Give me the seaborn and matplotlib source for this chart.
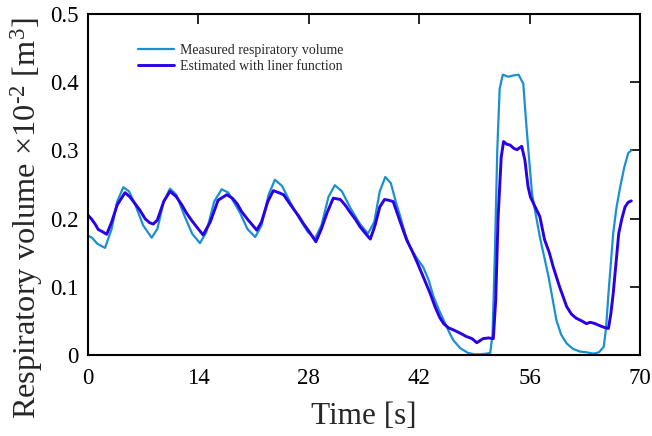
import numpy as np
import pandas as pd
import seaborn as sns
import matplotlib
matplotlib.use("Agg")
import matplotlib.pyplot as plt

# Measured respiratory volume (time in s, volume in 1e-2 m^3)
meas_t = [0, 0.5, 1.2, 2.16, 3.0, 3.7, 4.48, 5.2, 6.0, 7.0, 8.07, 8.8, 9.6, 10.4,
          11.2, 12.2, 13.2, 14.2, 15.0, 16.0, 16.95, 17.8, 18.6, 19.3, 20.2, 21.2,
          22.0, 22.9, 23.7, 24.6, 25.6, 26.8, 27.9, 28.8, 29.6, 30.5, 31.3, 32.2,
          33.3, 34.5, 35.5, 36.3, 37.0, 37.7, 38.4, 39.1, 39.6, 40.3, 40.8, 41.7,
          42.5, 43.2, 43.8, 44.5, 45.1, 45.7, 46.3, 47.2, 48.2, 49.0, 49.7, 50.5,
          51.0, 51.3, 51.6, 51.9, 52.2, 52.6, 53.3, 54.0, 54.6, 55.2, 55.6, 56.3,
          57.3, 58.4, 59.4, 60.0, 60.7, 61.5, 62.4, 63.2, 64.1, 64.8, 65.4, 65.7,
          66.0, 66.6, 67.0, 67.5, 68.0, 68.5, 68.9]
meas_v = [0.175, 0.172, 0.163, 0.157, 0.185, 0.225, 0.246, 0.240, 0.220, 0.190,
          0.172, 0.185, 0.225, 0.244, 0.235, 0.205, 0.178, 0.164, 0.180, 0.225,
          0.243, 0.238, 0.222, 0.208, 0.185, 0.173, 0.190, 0.235, 0.257, 0.248,
          0.225, 0.200, 0.180, 0.171, 0.190, 0.232, 0.249, 0.240, 0.215, 0.192,
          0.178, 0.195, 0.240, 0.261, 0.252, 0.222, 0.203, 0.175, 0.159, 0.142,
          0.129, 0.110, 0.086, 0.066, 0.051, 0.036, 0.022, 0.010, 0.003, 0.001,
          0.001, 0.002, 0.003, 0.030, 0.150, 0.300, 0.390, 0.411, 0.408, 0.410,
          0.411, 0.398, 0.335, 0.237, 0.173, 0.115, 0.051, 0.030, 0.017, 0.009,
          0.005, 0.004, 0.002, 0.004, 0.012, 0.040, 0.090, 0.178, 0.215, 0.247,
          0.275, 0.296, 0.300]

# Volume estimated with the linear function
est_t = [0, 0.47, 0.9, 1.3, 1.8, 2.37, 3.0, 3.7, 4.69, 5.3, 5.96, 6.6, 7.23, 7.8,
         8.28, 8.8, 9.6, 10.4, 11.2, 11.9, 12.5, 13.1, 13.9, 14.6, 15.5, 16.5,
         17.6, 18.3, 18.9, 19.5, 20.3, 20.9, 21.4, 22.0, 22.8, 23.5, 24.2, 24.8,
         25.4, 26.0, 26.7, 27.3, 28.1, 28.9, 29.6, 30.3, 31.1, 32.0, 32.6, 33.2,
         33.9, 34.5, 35.2, 35.8, 36.4, 37.0, 37.6, 38.1, 38.7, 39.6, 40.4, 41.0,
         41.7, 42.5, 43.4, 44.0, 44.6, 45.1, 45.7, 46.3, 47.2, 48.0, 48.7, 49.3,
         50.1, 50.8, 51.4, 51.7, 52.0, 52.4, 52.7, 53.1, 53.5, 54.0, 54.4, 55.0,
         55.4, 55.8, 56.1, 56.5, 57.3, 57.9, 58.5, 59.0, 59.8, 60.7, 61.3, 61.9,
         62.6, 63.2, 63.7, 64.3, 65.1, 65.6, 66.0, 66.3, 66.6, 67.0, 67.3, 67.7,
         68.1, 68.5, 68.9]
est_v = [0.205, 0.199, 0.192, 0.184, 0.181, 0.177, 0.195, 0.220, 0.238, 0.232,
         0.222, 0.212, 0.200, 0.194, 0.192, 0.198, 0.225, 0.240, 0.232, 0.220,
         0.208, 0.198, 0.186, 0.176, 0.195, 0.227, 0.235, 0.230, 0.222, 0.210,
         0.198, 0.190, 0.183, 0.195, 0.225, 0.241, 0.238, 0.235, 0.225, 0.215,
         0.204, 0.193, 0.180, 0.166, 0.185, 0.208, 0.230, 0.228, 0.220, 0.210,
         0.199, 0.188, 0.178, 0.170, 0.190, 0.217, 0.228, 0.227, 0.225, 0.195,
         0.169, 0.155, 0.137, 0.115, 0.090, 0.071, 0.055, 0.046, 0.040, 0.037,
         0.032, 0.027, 0.024, 0.018, 0.024, 0.025, 0.024, 0.080, 0.200, 0.290,
         0.313, 0.309, 0.308, 0.303, 0.301, 0.306, 0.286, 0.247, 0.232, 0.222,
         0.203, 0.169, 0.150, 0.129, 0.100, 0.071, 0.060, 0.054, 0.050, 0.046,
         0.048, 0.046, 0.042, 0.040, 0.039, 0.060, 0.090, 0.140, 0.178, 0.200,
         0.217, 0.224, 0.226]

series_names = ["Measured respiratory volume", "Estimated with liner function"]
series_colors = ["#1a90d2", "#2c00e6"]
x_ticks = [0, 14, 28, 42, 56, 70]
y_ticks = [0, 0.1, 0.2, 0.3, 0.4, 0.5]
y_tick_labels = ["0", "0.1", "0.2", "0.3", "0.4", "0.5"]

df = pd.concat([
    pd.DataFrame({"t": meas_t, "v": meas_v, "series": series_names[0]}),
    pd.DataFrame({"t": est_t, "v": est_v, "series": series_names[1]}),
], ignore_index=True)

sns.set_theme(style="white")
plt.rcParams["font.family"] = ["Liberation Serif", "DejaVu Serif"]
plt.rcParams["mathtext.fontset"] = "custom"
plt.rcParams["mathtext.rm"] = "Liberation Serif"
plt.rcParams["mathtext.it"] = "Liberation Serif:italic"

fig = plt.figure(figsize=(6.52, 4.36), dpi=100)
ax = fig.add_axes([88 / 652, 81 / 436, 552 / 652, 341 / 436])

sns.lineplot(data=df, x="t", y="v", hue="series", hue_order=series_names,
             palette=series_colors, estimator=None, sort=False, ax=ax)
line_widths = [1.6, 2.1]
for line, lw in zip(ax.get_lines(), line_widths):
    line.set_linewidth(lw)

ax.set_xlim(0, 70)
ax.set_ylim(0, 0.5)
ax.set_xticks(x_ticks)
ax.set_xticklabels([str(v) for v in x_ticks])
ax.set_yticks(y_ticks)
ax.set_yticklabels(y_tick_labels)
ax.tick_params(direction="in", top=True, right=True, length=7, width=1.2,
               labelsize=16.5, colors="black")
ax.tick_params(axis="x", pad=9)
ax.tick_params(axis="y", pad=7)
for s in ax.spines.values():
    s.set_linewidth(1.5)
    s.set_color("black")

ax.set_xlabel("Time [s]", fontsize=22.5, labelpad=10)
ax.set_ylabel(r"Respiratory volume $\times$10$^{\text{-2}}$ [m$^{3}$]",
              fontsize=23.3)
ax.yaxis.set_label_coords(-0.078, 0.40)

leg = ax.legend(loc="upper left", bbox_to_anchor=(0.09, 0.912), frameon=False,
                fontsize=10, handlelength=2.6, handletextpad=0.45,
                labelspacing=0.22, borderaxespad=0, borderpad=0)
for h, lw in zip(leg.get_lines(), line_widths):
    h.set_linewidth(lw)

fig.savefig("out.png", dpi=100)
